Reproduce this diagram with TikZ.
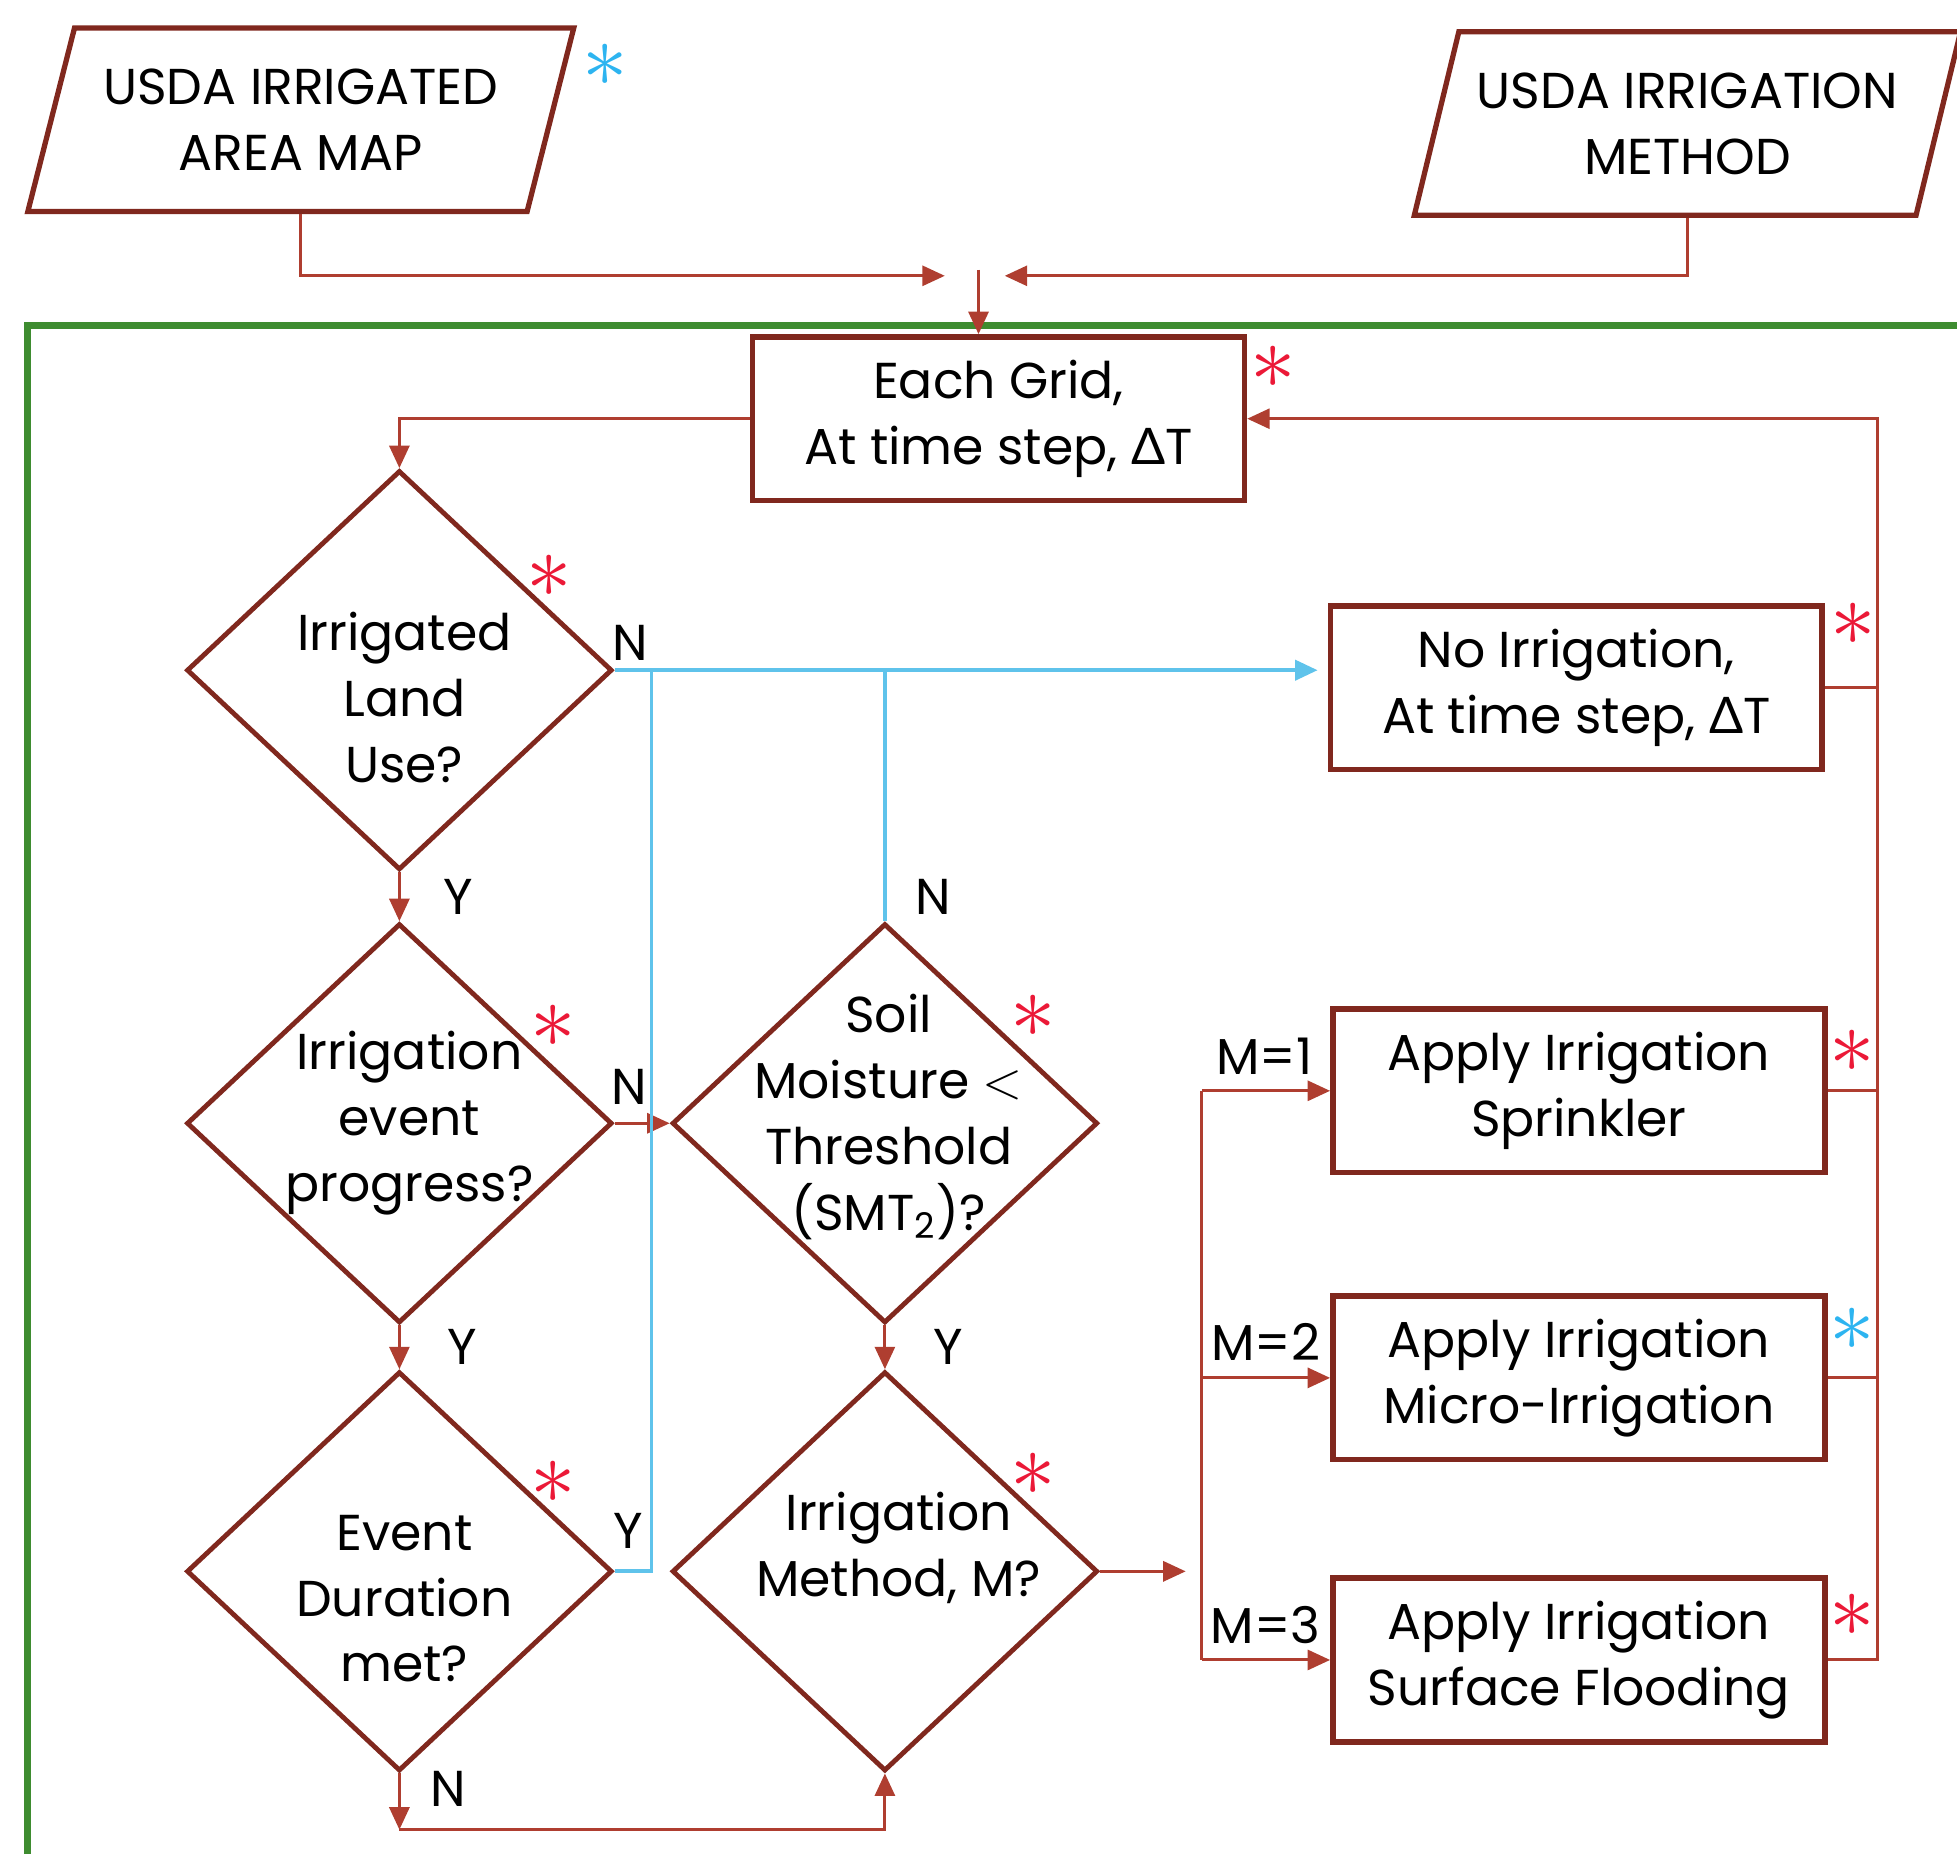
\documentclass[tikz,border=0pt]{standalone}
\usepackage{fontspec}
\setmainfont{Poppins}
\newfontfamily\grk{Lato}
\usetikzlibrary{shapes.geometric,arrows.meta,positioning}

\definecolor{boxred}{RGB}{128,40,30}
\definecolor{linkred}{RGB}{175,62,48}
\definecolor{noblue}{RGB}{95,195,235}
\definecolor{framegreen}{RGB}{62,140,48}
\definecolor{starred}{RGB}{235,25,55}
\definecolor{starblue}{RGB}{45,180,240}

\newcommand{\dT}{{\grk Δ}T}

\begin{document}
\begin{tikzpicture}[
    font=\fontsize{11.5}{15}\selectfont,
    >={Triangle[length=1.8mm,width=1.6mm]},
    procbox/.style={draw=boxred, line width=1.3pt, minimum width=3.94cm, minimum height=1.31cm, align=center, inner sep=2pt},
    decide/.style={diamond, draw=boxred, line width=1.1pt, minimum width=3.41cm, minimum height=3.2cm, inner sep=0pt},
    dtext/.style={align=center, inner sep=0pt},
    datain/.style={trapezium, trapezium stretches=true, trapezium left angle=71.5, trapezium right angle=108.5, draw=boxred, line width=1.2pt, minimum width=4.38cm, minimum height=1.47cm, align=center},
    link/.style={draw=linkred, line width=0.7pt, ->},
    plainlink/.style={draw=linkred, line width=0.7pt},
    nolink/.style={draw=noblue, line width=0.9pt},
    tag/.style={inner sep=0pt},
    redstar/.style={text=starred, font=\fontsize{20}{20}\selectfont, inner sep=0pt},
    bluestar/.style={redstar, text=starblue}
]
    \useasboundingbox (0,0) rectangle (15.68,-14.85);

    % Frame round the model
    \draw[framegreen, line width=1.5pt] (0.22,-2.61) rectangle (16.3,-15.3);

    % Inputs
    \node[datain] (areamap) at (2.41,-0.96) {USDA IRRIGATED\\AREA MAP};
    \node[datain] (methodin) at (13.52,-0.99) {USDA IRRIGATION\\METHOD};

    % Boxes
    \node[procbox] (eachgrid) at (8.00,-3.355) {Each Grid,\\At time step, \dT};
    \node[procbox] (noirr) at (12.63,-5.51) {No Irrigation,\\At time step, \dT};
    \node[procbox] (sprink) at (12.65,-8.74) {Apply Irrigation\\Sprinkler};
    \node[procbox] (micro) at (12.65,-11.04) {Apply Irrigation\\Micro-Irrigation};
    \node[procbox] (surface) at (12.65,-13.30) {Apply Irrigation\\Surface Flooding};

    % Decisions
    \node[decide, label={[dtext, xshift=0.04cm, yshift=-0.22cm]center:Irrigated\\Land\\Use?}] (irrland) at (3.20,-5.37) {};
    \node[decide, label={[dtext, xshift=0.08cm]center:Irrigation\\event\\progress?}] (evtprog) at (3.20,-9.00) {};
    \node[decide, label={[dtext, xshift=0.04cm, yshift=-0.22cm]center:Event\\Duration\\met?}] (evtdur) at (3.20,-12.59) {};
    \node[decide, label={[dtext, xshift=0.03cm, yshift=0.05cm]center:Soil\\Moisture $<$\\Threshold\\(SMT\textsubscript{2})?}] (soilmt) at (7.09,-9.00) {};
    \node[decide, label={[dtext, xshift=0.11cm, yshift=0.19cm]center:Irrigation\\Method, M?}] (irrmeth) at (7.09,-12.59) {};

    % Turning points
    \coordinate (mapend) at (7.57,-2.21);
    \coordinate (methend) at (8.05,-2.21);
    \coordinate (join) at (7.84,-2.16);
    \coordinate (bluex) at (5.22,0);
    \coordinate (nturn) at (3.20,-14.66);
    \coordinate (mend) at (9.50,0);
    \coordinate (split) at (9.63,0);
    \coordinate (loop) at (15.04,0);

    % Input connectors
    \draw[link] (areamap.center |- areamap.south) |- (mapend);
    \draw[link] (methodin.center |- methodin.south) |- (methend);
    \draw[link] (join) -- (join |- eachgrid.north);
    \draw[link] (eachgrid.west) -| (irrland.north);

    % Flow down the left
    \draw[link] (irrland.south) -- node[tag, xshift=0.47cm] {Y} (evtprog.north);
    \draw[link] (evtprog.south) -- node[tag, xshift=0.50cm] {Y} (evtdur.north);
    \draw[link] (evtprog.east) -- (soilmt.west);
    \draw[link] (soilmt.south) -- node[tag, xshift=0.51cm] {Y} (irrmeth.north);
    \draw[link] (evtdur.south) -- (nturn);
    \draw[link] (nturn) -| (irrmeth.south);
    \node[tag] at (5.05,-5.15) {N};
    \node[tag] at (5.04,-8.71) {N};
    \node[tag] at (5.03,-12.27) {Y};
    \node[tag] at (7.48,-7.19) {N};
    \node[tag] at (3.59,-14.33) {N};

    % No irrigation branch
    \draw[nolink, ->, shorten >=0.08cm] (irrland.east) -- (irrland.east -| noirr.west);
    \draw[nolink] (evtdur.east) -| (bluex |- irrland.east);
    \draw[nolink] (soilmt.north) -- (soilmt.north |- irrland.east);

    % Method split
    \draw[link] (irrmeth.east) -- (irrmeth.east -| mend);
    \draw[plainlink] (split |- sprink.west) -- (split |- surface.west);
    \foreach \b in {sprink,micro,surface}
        \draw[link] (split |- \b.west) -- (\b.west);
    \node[tag] at (10.13,-8.46) {M=1};
    \node[tag] at (10.14,-10.75) {M=2};
    \node[tag] at (10.14,-13.02) {M=3};

    % Back to the next time step
    \draw[link] (surface.east) -| (loop |- eachgrid.east) -- (eachgrid.east);
    \foreach \b in {noirr,sprink,micro}
        \draw[plainlink] (\b.east) -- (loop |- \b.east);

    % Asterisks
    \node[bluestar] at (4.85,-0.52) {$\ast$};
    \node[redstar] at (10.20,-2.94) {$\ast$};
    \node[redstar] at (4.40,-4.62) {$\ast$};
    \node[redstar] at (4.43,-8.22) {$\ast$};
    \node[redstar] at (4.43,-11.88) {$\ast$};
    \node[redstar] at (8.28,-8.14) {$\ast$};
    \node[redstar] at (8.28,-11.81) {$\ast$};
    \node[redstar] at (14.85,-5.00) {$\ast$};
    \node[redstar] at (14.84,-8.42) {$\ast$};
    \node[bluestar] at (14.84,-10.65) {$\ast$};
    \node[redstar] at (14.84,-12.94) {$\ast$};
\end{tikzpicture}
\end{document}
